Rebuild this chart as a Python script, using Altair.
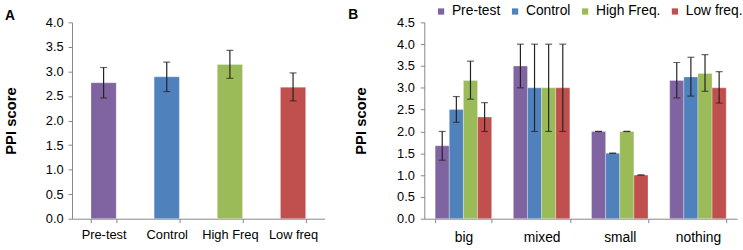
import altair as alt
import pandas as pd

# ---------- Panel A data ----------
groups_a = ["Pre-test", "Control", "High Freq", "Low freq"]
mean_a = [2.77, 2.89, 3.14, 2.68]
low_a = [2.46, 2.59, 2.86, 2.40]
high_a = [3.08, 3.19, 3.43, 2.97]

# ---------- Panel B data ----------
cats_b = ["big", "mixed", "small", "nothing"]
series_b = ["Pre-test", "Control", "High Freq.", "Low freq."]
pre_mean = [1.67, 3.50, 2.00, 3.17]
pre_low = [1.34, 3.00, 2.00, 2.77]
pre_high = [2.00, 4.00, 2.00, 3.58]
ctrl_mean = [2.50, 3.00, 1.50, 3.25]
ctrl_low = [2.21, 2.00, 1.50, 2.81]
ctrl_high = [2.80, 4.00, 1.50, 3.70]
hf_mean = [3.17, 3.00, 2.00, 3.33]
hf_low = [2.74, 2.00, 2.00, 2.92]
hf_high = [3.61, 4.00, 2.00, 3.76]
lf_mean = [2.33, 3.00, 1.00, 3.00]
lf_low = [2.00, 2.00, 1.00, 2.65]
lf_high = [2.66, 4.00, 1.00, 3.37]

colors = ["#8064A2", "#4F81BD", "#9BBB59", "#C0504D"]
yticks_a = [0, 0.5, 1, 1.5, 2, 2.5, 3, 3.5, 4]
yticks_b = [0, 0.5, 1, 1.5, 2, 2.5, 3, 3.5, 4, 4.5]

FONT = "Liberation Sans"
AXIS_GRAY = "#868686"

df_a = pd.DataFrame({"group": groups_a, "mean": mean_a, "low": low_a, "high": high_a})

rows = []
for s, m, lo, hi in [
    (series_b[0], pre_mean, pre_low, pre_high),
    (series_b[1], ctrl_mean, ctrl_low, ctrl_high),
    (series_b[2], hf_mean, hf_low, hf_high),
    (series_b[3], lf_mean, lf_low, lf_high),
]:
    for c, mv, lv, hv in zip(cats_b, m, lo, hi):
        rows.append({"cat": c, "series": s, "mean": mv, "low": lv, "high": hv})
df_b = pd.DataFrame(rows)

# ---------- Panel A ----------
axis_xa = alt.Axis(labelFontSize=13, labelPadding=6)
axis_ya = alt.Axis(values=yticks_a, tickCount=9, format=".1f", labelFontSize=13,
                   labelPadding=5, titlePadding=27, labelOverlap=False)
scale_xa = alt.Scale(paddingInner=0.6, paddingOuter=0.3)
scale_ya = alt.Scale(domain=[0, 4], nice=False)


def xa(field="group"):
    return alt.X(f"{field}:N", sort=groups_a, title=None, scale=scale_xa, axis=axis_xa)


def ya(field):
    return alt.Y(f"{field}:Q", title="PPI score", scale=scale_ya, axis=axis_ya)


color_a = alt.Color("group:N", sort=groups_a,
                    scale=alt.Scale(domain=groups_a, range=colors), legend=None)

base_a = alt.Chart(df_a)
bars_a = base_a.mark_bar(stroke="white", strokeOpacity=0.3, strokeWidth=1).encode(
    x=xa(), y=ya("mean"), color=color_a)
rule_a = base_a.mark_rule(color="#222", strokeWidth=1.2).encode(
    x=xa(), y=ya("low"), y2="high:Q")
cap_lo_a = base_a.mark_tick(color="#222", size=7, thickness=1.2).encode(
    x=xa(), y=ya("low"))
cap_hi_a = base_a.mark_tick(color="#222", size=7, thickness=1.2).encode(
    x=xa(), y=ya("high"))
lab_a = alt.Chart(pd.DataFrame({"t": ["A"]})).mark_text(
    font=FONT, fontSize=14, fontWeight="bold", align="left", baseline="alphabetic", color="#000"
).encode(text="t:N", x=alt.value(-68), y=alt.value(-2))

panel_a = alt.layer(bars_a, rule_a, cap_lo_a, cap_hi_a, lab_a).properties(width=256, height=199)

# ---------- Panel B ----------
axis_xb = alt.Axis(labelFontSize=14, labelPadding=8)
axis_yb = alt.Axis(values=yticks_b, tickCount=10, format=".1f", labelFontSize=13,
                   labelPadding=6, titlePadding=28, labelOverlap=False)
scale_xb = alt.Scale(paddingInner=0.277, paddingOuter=0.139)
scale_yb = alt.Scale(domain=[0, 4.5], nice=False)


def xb():
    return alt.X("cat:N", sort=cats_b, title=None, scale=scale_xb, axis=axis_xb)


def yb(field):
    return alt.Y(f"{field}:Q", title="PPI score", scale=scale_yb, axis=axis_yb)


xoff = alt.XOffset("series:N", sort=series_b, scale=alt.Scale(paddingInner=0, paddingOuter=0))
color_b = alt.Color(
    "series:N", sort=series_b,
    scale=alt.Scale(domain=series_b, range=colors),
    legend=alt.Legend(
        title=None, orient="none", legendX=10, legendY=-18, direction="horizontal",
        symbolType="square", symbolSize=40, symbolStrokeWidth=0,
        labelFont=FONT, labelFontSize=14, labelColor="#000", labelOffset=4,
        columnPadding=7, padding=0,
    ),
)

base_b = alt.Chart(df_b)
bars_b = base_b.mark_bar(stroke="white", strokeOpacity=0.3, strokeWidth=1).encode(
    x=xb(), xOffset=xoff, y=yb("mean"), color=color_b)
rule_b = base_b.mark_rule(color="#222", strokeWidth=1.2).encode(
    x=xb(), xOffset=xoff, y=yb("low"), y2="high:Q")
cap_lo_b = base_b.mark_tick(color="#222", size=7, thickness=1.2).encode(
    x=xb(), xOffset=xoff, y=yb("low"))
cap_hi_b = base_b.mark_tick(color="#222", size=7, thickness=1.2).encode(
    x=xb(), xOffset=xoff, y=yb("high"))
lab_b = alt.Chart(pd.DataFrame({"t": ["B"]})).mark_text(
    font=FONT, fontSize=14, fontWeight="bold", align="left", baseline="alphabetic", color="#000"
).encode(text="t:N", x=alt.value(-77), y=alt.value(-3))

panel_b = alt.layer(bars_b, rule_b, cap_lo_b, cap_hi_b, lab_b).properties(width=317, height=199)

chart = alt.hconcat(panel_a, panel_b, spacing=101, bounds="flush").resolve_scale(
    x="independent", y="independent", color="independent"
).properties(
    padding={"left": 3, "top": 3, "right": 0, "bottom": 0},
    background="white",
).configure_view(
    stroke=None
).configure_axis(
    grid=False, labelOverlap=False, labelFont=FONT, labelColor="#000",
    domainColor=AXIS_GRAY, tickColor=AXIS_GRAY, tickSize=4,
    titleFont=FONT, titleFontSize=15, titleFontWeight="bold", titleColor="#000",
).configure_axisX(
    labelAngle=0, tickBand="extent",
)

chart.save("out.html", embed_options={"renderer": "svg", "actions": False})
